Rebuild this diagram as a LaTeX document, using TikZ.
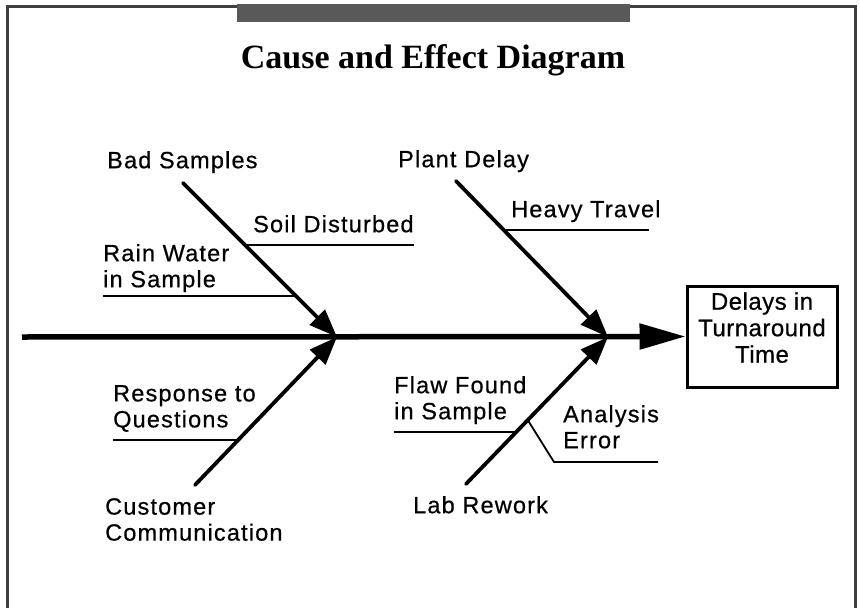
\documentclass[tikz,border=0pt]{standalone}
\usepackage{fontspec}
\setmainfont{Liberation Sans}
\newfontfamily\lblfont[LetterSpace=5,FakeBold=0.6]{Liberation Sans}
\newfontfamily\boxfont[LetterSpace=2,FakeBold=0.6]{Liberation Sans}
\newfontfamily\headfont{Liberation Serif}
\usetikzlibrary{arrows.meta}
\tikzset{
	cause/.style={font=\lblfont\fontsize{23.5}{26}\selectfont, align=left, inner sep=0pt, anchor=north west},
	bone/.style={line width=3.8pt, line cap=round, -{Triangle[length=28pt,width=21pt]}},
	twig/.style={line width=1.8pt},
	spine/.style={line width=5.5pt, -{Triangle[length=46pt,width=25pt]}},
}
\begin{document}
\begin{tikzpicture}[x=1pt,y=-1pt]
	\useasboundingbox (0,0) rectangle (860,608);
	\draw[black!75, line width=3pt] (7,612) -- (7,6) -- (855,6) -- (855,612);
	\fill[black!65] (237,4) rectangle (630,22);
	\node[font=\headfont\bfseries\fontsize{34}{40}\selectfont, anchor=base] (title) at (433,68) {Cause and Effect Diagram};
	\node[draw, line width=3pt, minimum width=150pt, minimum height=101pt, font=\boxfont\fontsize{24}{26.5}\selectfont, align=center, text depth=18pt] (effect) at (762,336.5) {Delays in\\Turnaround\\Time};
	\node[cause] (bad) at (107,151) {Bad Samples};
	\node[cause] (rain) at (103,244) {Rain Water\\in Sample};
	\node[cause] (soil) at (253,215) {Soil Disturbed};
	\node[cause] (plant) at (398,150) {Plant Delay};
	\node[cause] (heavy) at (511,200) {Heavy Travel};
	\node[cause] (response) at (113,385) {Response to\\Questions};
	\node[cause] (customer) at (105,498) {Customer\\Communication};
	\node[cause] (flaw) at (394,376) {Flaw Found\\in Sample};
	\node[cause] (analysis) at (563,405) {Analysis\\Error};
	\node[cause] (lab) at (413,496) {Lab Rework};
	\coordinate (headL) at (337,337);
	\coordinate (headR) at (608,337);
	\coordinate (badEnd) at (183,183);
	\coordinate (custEnd) at (195,485);
	\coordinate (plantEnd) at (456,181);
	\coordinate (labEnd) at (466,484);
	\coordinate (soilEnd) at (414,244);
	\coordinate (rainEnd) at (103,296);
	\coordinate (heavyEnd) at (649,229);
	\coordinate (respEnd) at (113,440);
	\coordinate (flawEnd) at (394,432);
	\coordinate (errBend) at (554,462);
	\coordinate (errEnd) at (658,462);
	\draw[spine] (22,337) coordinate (spineStart) -- (effect.west);
	\draw[bone] (badEnd) -- coordinate[pos=0.40] (soilJoin) coordinate[pos=0.743] (rainJoin) (headL);
	\draw[bone] (custEnd) -- coordinate[pos=0.304] (respJoin) (headL);
	\draw[bone] (plantEnd) -- coordinate[pos=0.312] (heavyJoin) (headR);
	\draw[bone] (labEnd) -- coordinate[pos=0.354] (flawJoin) coordinate[pos=0.435] (errJoin) (headR);
	\draw[twig] (soilJoin) -- (soilJoin -| soilEnd);
	\draw[twig] (rainEnd) -- (rainEnd -| rainJoin);
	\draw[twig] (respEnd) -- (respEnd -| respJoin);
	\draw[twig] (heavyJoin) -- (heavyJoin -| heavyEnd);
	\draw[twig] (flawEnd) -- (flawEnd -| flawJoin);
	\draw[twig] (errJoin) -- (errBend) -- (errEnd);
\end{tikzpicture}
\end{document}
